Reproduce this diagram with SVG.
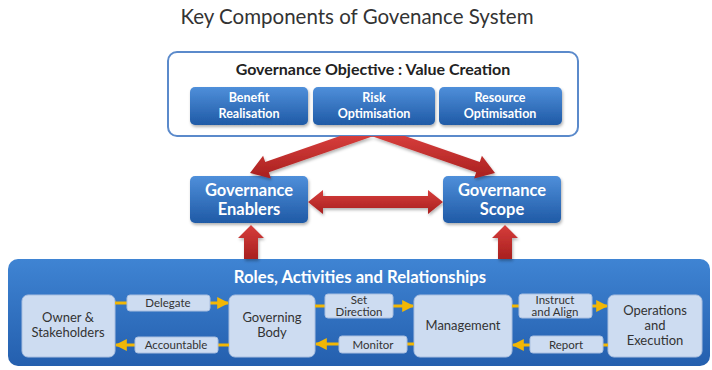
<svg xmlns="http://www.w3.org/2000/svg" width="712" height="370" viewBox="0 0 712 370">
  <defs>
    <linearGradient id="btnGrad" x1="0" y1="0" x2="0" y2="1">
      <stop offset="0" stop-color="#4f8fda"/>
      <stop offset="1" stop-color="#1f5aa6"/>
    </linearGradient>
    <linearGradient id="panelGrad" x1="0" y1="0" x2="0" y2="1">
      <stop offset="0" stop-color="#3f84d3"/>
      <stop offset="1" stop-color="#245fae"/>
    </linearGradient>
    <linearGradient id="redGrad" x1="0" y1="0" x2="0" y2="1">
      <stop offset="0" stop-color="#d63d3b"/>
      <stop offset="1" stop-color="#a8201f"/>
    </linearGradient>
    <filter id="shadow" x="-10%" y="-10%" width="120%" height="130%">
      <feDropShadow dx="1" dy="2" stdDeviation="1.5" flood-color="#000" flood-opacity="0.3"/>
    </filter>
    <marker id="yArrow" viewBox="0 0 10 10" refX="9" refY="5" markerWidth="4" markerHeight="4" orient="auto-start-reverse">
      <path d="M0,0 L10,5 L0,10 Z" fill="#f2b705"/>
    </marker>
  </defs>
  <style>
    text { font-family: Lato, "Liberation Sans", sans-serif; }
    .title { font-size: 20.5px; fill: #333; }
    .btn { fill: url(#btnGrad); filter: url(#shadow); }
    .btnText { font-size: 12.5px; font-weight: bold; fill: #fff; }
    .bigText { font-size: 16.5px; font-weight: bold; fill: #fff; }
    .role { fill: #cddcf1; stroke: #a9bfe0; stroke-width: 1; }
    .roleText { font-size: 13px; fill: #333; }
    .lbl { fill: #cddcf1; stroke: #a9bfe0; stroke-width: 1; }
    .lblText { font-size: 11.5px; fill: #333; }
    .red { fill: url(#redGrad); filter: url(#shadow); }
    .yline { stroke: #f2b705; stroke-width: 3; fill: none; }
  </style>

  <text class="title" x="357" y="24" text-anchor="middle">Key Components of Govenance System</text>

  <!-- objective panel -->
  <g id="objective">
    <rect x="168" y="52" width="410" height="84" rx="9" fill="#fff" stroke="#5b8acb" stroke-width="2"/>
    <text x="373" y="75" text-anchor="middle" font-size="16" font-weight="bold" fill="#222">Governance Objective : Value Creation</text>
  </g>
  <g id="benefit">
    <rect class="btn" x="190" y="87" width="118" height="38" rx="5"/>
    <text class="btnText" x="249" y="102" text-anchor="middle">Benefit</text>
    <text class="btnText" x="249" y="118" text-anchor="middle">Realisation</text>
  </g>
  <g id="risk">
    <rect class="btn" x="313" y="87" width="122" height="38" rx="5"/>
    <text class="btnText" x="374" y="102" text-anchor="middle">Risk</text>
    <text class="btnText" x="374" y="118" text-anchor="middle">Optimisation</text>
  </g>
  <g id="resource">
    <rect class="btn" x="439" y="87" width="123" height="38" rx="5"/>
    <text class="btnText" x="500" y="102" text-anchor="middle">Resource</text>
    <text class="btnText" x="500" y="118" text-anchor="middle">Optimisation</text>
  </g>

  <!-- enablers and scope -->
  <g id="enablers">
    <rect class="btn" x="190" y="176" width="118" height="47" rx="5"/>
    <text class="bigText" x="249" y="196" text-anchor="middle">Governance</text>
    <text class="bigText" x="249" y="215" text-anchor="middle">Enablers</text>
  </g>
  <g id="scope">
    <rect class="btn" x="443" y="176" width="118" height="47" rx="5"/>
    <text class="bigText" x="502" y="196" text-anchor="middle">Governance</text>
    <text class="bigText" x="502" y="215" text-anchor="middle">Scope</text>
  </g>

  <!-- roles panel -->
  <g id="roles">
    <rect x="8" y="259" width="702" height="107" rx="10" fill="url(#panelGrad)"/>
    <text x="360" y="283" text-anchor="middle" font-size="16.7" font-weight="bold" fill="#fff">Roles, Activities and Relationships</text>
  </g>
  <g id="owner">
    <rect class="role" x="22" y="295" width="93" height="62" rx="6"/>
    <text class="roleText" x="68" y="322" text-anchor="middle">Owner &amp;</text>
    <text class="roleText" x="68" y="337" text-anchor="middle">Stakeholders</text>
  </g>
  <g id="governing-body">
    <rect class="role" x="229" y="295" width="86" height="62" rx="6"/>
    <text class="roleText" x="272" y="322" text-anchor="middle">Governing</text>
    <text class="roleText" x="272" y="337" text-anchor="middle">Body</text>
  </g>
  <g id="management">
    <rect class="role" x="414" y="295" width="98" height="62" rx="6"/>
    <text class="roleText" x="463" y="330" text-anchor="middle">Management</text>
  </g>
  <g id="operations">
    <rect class="role" x="608" y="295" width="94" height="62" rx="6"/>
    <text class="roleText" x="655" y="315" text-anchor="middle">Operations</text>
    <text class="roleText" x="655" y="330" text-anchor="middle">and</text>
    <text class="roleText" x="655" y="345" text-anchor="middle">Execution</text>
  </g>

  <!-- connectors -->
  <g id="connectors">
    <!-- red block arrows -->
    <path class="red" d="M340,136 L373.7,136 L268.8,172.3 L270.9,178.4 L250,173 L263.1,155.8 L265.2,161.9 Z"/>
    <path class="red" d="M405,136 L371.3,136 L476.2,172.3 L474.1,178.4 L495,173 L481.9,155.8 L479.8,161.9 Z"/>
    <path class="red" d="M308,202 L323,190 L323,196 L428,196 L428,190 L443,202 L428,214 L428,208 L323,208 L323,214 Z"/>
    <path class="red" d="M251,225 L264,238 L258,238 L258,259 L244,259 L244,238 L238,238 Z"/>
    <path class="red" d="M505,225 L518,238 L512,238 L512,259 L498,259 L498,238 L492,238 Z"/>

    <!-- yellow relationship arrows -->
    <line class="yline" x1="115" y1="303" x2="127" y2="303"/>
    <line class="yline" x1="210" y1="303" x2="228" y2="303" marker-end="url(#yArrow)"/>
    <line class="yline" x1="229" y1="345" x2="218" y2="345"/>
    <line class="yline" x1="135" y1="345" x2="116" y2="345" marker-end="url(#yArrow)"/>
    <line class="yline" x1="315" y1="306" x2="325" y2="306"/>
    <line class="yline" x1="393" y1="306" x2="413" y2="306" marker-end="url(#yArrow)"/>
    <line class="yline" x1="414" y1="344" x2="407" y2="344"/>
    <line class="yline" x1="339" y1="344" x2="316" y2="344" marker-end="url(#yArrow)"/>
    <line class="yline" x1="512" y1="306" x2="519" y2="306"/>
    <line class="yline" x1="592" y1="306" x2="607" y2="306" marker-end="url(#yArrow)"/>
    <line class="yline" x1="608" y1="345" x2="603" y2="345"/>
    <line class="yline" x1="530" y1="345" x2="513" y2="345" marker-end="url(#yArrow)"/>

    <!-- relationship labels -->
    <rect class="lbl" x="127" y="295" width="83" height="16" rx="3"/>
    <text class="lblText" x="168" y="307" text-anchor="middle">Delegate</text>
    <rect class="lbl" x="135" y="337" width="83" height="16" rx="3"/>
    <text class="lblText" x="176" y="349" text-anchor="middle">Accountable</text>
    <rect class="lbl" x="325" y="294" width="68" height="24" rx="3"/>
    <text class="lblText" x="359" y="304" text-anchor="middle">Set</text>
    <text class="lblText" x="359" y="316" text-anchor="middle">Direction</text>
    <rect class="lbl" x="339" y="336" width="68" height="17" rx="3"/>
    <text class="lblText" x="373" y="349" text-anchor="middle">Monitor</text>
    <rect class="lbl" x="519" y="294" width="73" height="24" rx="3"/>
    <text class="lblText" x="555" y="304" text-anchor="middle">Instruct</text>
    <text class="lblText" x="555" y="316" text-anchor="middle">and Align</text>
    <rect class="lbl" x="530" y="336" width="73" height="17" rx="3"/>
    <text class="lblText" x="566" y="349" text-anchor="middle">Report</text>
  </g>
</svg>
